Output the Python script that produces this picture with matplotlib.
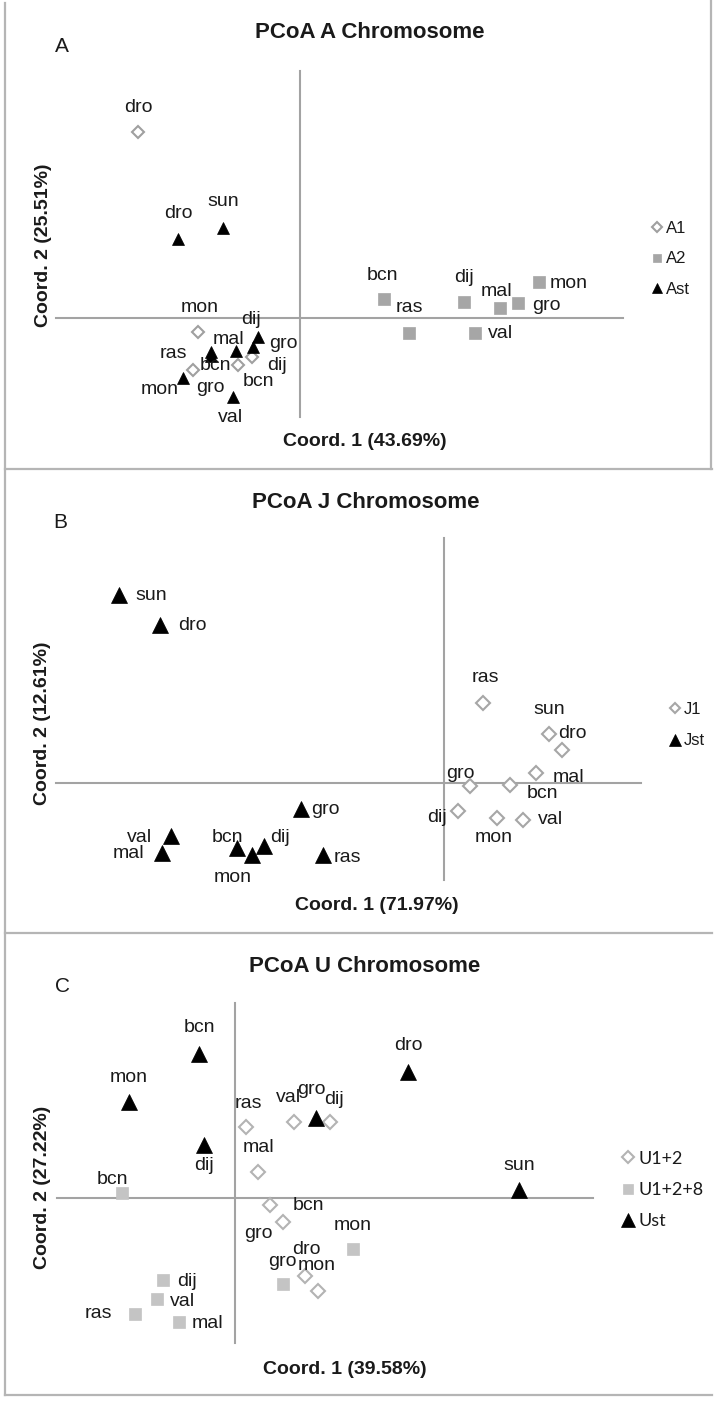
import matplotlib.pyplot as plt

plt.rcParams['font.family'] = ['Liberation Sans', 'DejaVu Sans']

W, H = 717, 1402
S = 100.0  # pixels per coordinate unit

# ---------------- panel A : A chromosome ----------------
a1_names = ['dro', 'mon', 'gro', 'bcn', 'dij']
a1_x = [-1.62, -1.02, -1.07, -0.62, -0.48]
a1_y = [1.86, -0.14, -0.52, -0.47, -0.39]

a2_names = ['bcn', 'ras', 'dij', 'mal', 'gro', 'mon', 'val']
a2_x = [0.84, 1.09, 1.64, 2.00, 2.18, 2.39, 1.75]
a2_y = [0.19, -0.15, 0.16, 0.10, 0.15, 0.36, -0.15]

ast_names = ['dro', 'sun', 'ras', 'bcn', 'mal', 'dij', 'gro', 'mon', 'val']
ast_x = [-1.22, -0.77, -0.89, -0.89, -0.64, -0.42, -0.47, -1.17, -0.67]
ast_y = [0.79, 0.90, -0.34, -0.38, -0.33, -0.19, -0.29, -0.60, -0.79]

# ---------------- panel B : J chromosome ----------------
j1_names = ['ras', 'sun', 'dro', 'mal', 'gro', 'bcn', 'dij', 'mon', 'val']
j1_x = [0.39, 1.05, 1.18, 0.92, 0.26, 0.66, 0.14, 0.53, 0.79]
j1_y = [0.80, 0.49, 0.33, 0.10, -0.03, -0.02, -0.28, -0.35, -0.37]

jst_names = ['sun', 'dro', 'gro', 'val', 'mal', 'bcn', 'mon', 'dij', 'ras']
jst_x = [-3.25, -2.84, -1.43, -2.73, -2.82, -2.07, -1.92, -1.80, -1.21]
jst_y = [1.88, 1.58, -0.26, -0.53, -0.70, -0.65, -0.72, -0.63, -0.72]

# ---------------- panel C : U chromosome ----------------
u12_names = ['ras', 'val', 'dij', 'mal', 'bcn', 'gro', 'dro', 'mon']
u12_x = [0.11, 0.59, 0.95, 0.23, 0.35, 0.48, 0.70, 0.83]
u12_y = [0.71, 0.76, 0.76, 0.26, -0.07, -0.24, -0.78, -0.93]

u128_names = ['bcn', 'mon', 'gro', 'dij', 'val', 'ras', 'mal']
u128_x = [-1.13, 1.18, 0.48, -0.72, -0.78, -1.00, -0.56]
u128_y = [0.05, -0.51, -0.86, -0.82, -1.01, -1.16, -1.24]

ust_names = ['bcn', 'mon', 'dij', 'dro', 'sun', 'gro']
ust_x = [-0.36, -1.06, -0.31, 1.73, 2.84, 0.81]
ust_y = [1.44, 0.96, 0.53, 1.26, 0.08, 0.80]

# label nudges (pixels, right / up) for each point, same order as names
a1_off = [(0, 25), (2, 24), (17, -17), (20, -16), (25, -8)]
a2_off = [(-2, 24), (0, 25), (0, 24), (-4, 16), (28, -2), (30, -1), (26, 0)]
ast_off = [(0, 26), (0, 27), (-38, -1), (4, -10), (-8, 11), (-7, 18), (30, 4), (-23, -12), (-3, -20)]
j1_off = [(2, 25), (0, 24), (10, 17), (32, -5), (-10, 13), (32, -9), (-21, -7), (-3, -19), (28, 1)]
jst_off = [(32, -1), (32, -1), (24, -1), (-32, -2), (-34, 0), (-10, 10), (-19, -22), (16, 8), (24, -2)]
u12_off = [(2, 24), (-6, 24), (4, 22), (0, 25), (38, -1), (-25, -11), (1, 26), (-1, 25)]
u128_off = [(-10, 13), (0, 24), (-1, 22), (24, -2), (25, -3), (-37, 1), (28, -1)]
ust_off = [(0, 27), (0, 25), (0, -20), (0, 26), (0, 25), (-5, 28)]

TXT = '#1a1a1a'
AXC = '#a3a3a3'
FRAME = '#b5b5b5'

fig = plt.figure(figsize=(W / 100, H / 100), dpi=100)


def fx(px):
    return px / W


def fy(py):
    return 1 - py / H


def make_panel(top, bottom, ox, oy, hx, vy):
    # axes covering the whole panel strip, origin of the PCoA at pixel (ox, oy)
    ax = fig.add_axes([0, fy(bottom), 1, (bottom - top) / H])
    ax.set_xlim((0 - ox) / S, (W - ox) / S)
    ax.set_ylim((oy - bottom) / S, (oy - top) / S)
    ax.axis('off')
    ax.plot([(hx[0] - ox) / S, (hx[1] - ox) / S], [0, 0], color=AXC, lw=1.5, zorder=1)
    ax.plot([0, 0], [(oy - vy[1]) / S, (oy - vy[0]) / S], color=AXC, lw=1.5, zorder=1)
    return ax


def series(ax, names, xs, ys, offs, **kw):
    ln, = ax.plot(xs, ys, ls='none', zorder=3, **kw)
    for n, x, y, (dx, dy) in zip(names, xs, ys, offs):
        ax.annotate(n, (x, y), xytext=(dx, dy), textcoords='offset pixels',
                    ha='center', va='center', fontsize=14, color=TXT, zorder=4)
    return ln


def titles(title, letter, xlab, ylab, t_xy, l_xy, x_xy, y_xy):
    fig.text(fx(t_xy[0]), fy(t_xy[1]), title, ha='center', va='center',
             fontsize=16, fontweight='bold', color=TXT)
    fig.text(fx(l_xy[0]), fy(l_xy[1]), letter, ha='center', va='center',
             fontsize=15, color=TXT)
    fig.text(fx(x_xy[0]), fy(x_xy[1]), xlab, ha='center', va='center',
             fontsize=14, fontweight='bold', color=TXT)
    fig.text(fx(y_xy[0]), fy(y_xy[1]), ylab, ha='center', va='center', rotation=90,
             fontsize=14, fontweight='bold', color=TXT)


def legend(ax, handles, labels, left, cy, fs, spacing, scale, family=None):
    prop = {'size': fs}
    if family:
        prop['family'] = family
    leg = ax.legend(handles, labels, loc='center left', bbox_to_anchor=(fx(left), fy(cy)),
                    bbox_transform=fig.transFigure, frameon=False, borderpad=0,
                    borderaxespad=0, handlelength=0.6, handletextpad=0.25,
                    labelspacing=spacing, markerscale=scale, prop=prop)
    for t in leg.get_texts():
        t.set_color(TXT)


# ---- panel A
axA = make_panel(0, 469, 300, 318, (56, 623), (71, 417))
hA1 = series(axA, a1_names, a1_x, a1_y, a1_off, marker='D', ms=6, mfc='white',
             mec='#a0a0a0', mew=1.5)
hA2 = series(axA, a2_names, a2_x, a2_y, a2_off, marker='s', ms=8, mfc='#a6a6a6',
             mec='#a6a6a6', mew=0.5)
hAst = series(axA, ast_names, ast_x, ast_y, ast_off, marker='^', ms=9, mfc='black',
              mec='black', mew=0.5)
titles('PCoA A Chromosome', 'A', 'Coord. 1 (43.69%)', 'Coord. 2 (25.51%)',
       (370, 33), (62, 47), (365, 442), (44, 245))
legend(axA, [hA1, hA2, hAst], ['A1', 'A2', 'Ast'], 652, 259, 12, 0.95, 0.8)

# ---- panel B
axB = make_panel(469, 933, 444, 783, (56, 641), (538, 880))
hJ1 = series(axB, j1_names, j1_x, j1_y, j1_off, marker='D', ms=7, mfc='white',
             mec='#a6a6a6', mew=1.5)
hJst = series(axB, jst_names, jst_x, jst_y, jst_off, marker='^', ms=12, mfc='black',
              mec='black', mew=0.5)
titles('PCoA J Chromosome', 'B', 'Coord. 1 (71.97%)', 'Coord. 2 (12.61%)',
       (366, 502), (60, 522), (377, 905), (43, 723))
legend(axB, [hJ1, hJst], ['J1', 'Jst'], 670, 725, 12, 1.0, 0.75)

# ---- panel C
axC = make_panel(933, 1402, 235, 1198, (57, 593), (1003, 1343))
hU12 = series(axC, u12_names, u12_x, u12_y, u12_off, marker='D', ms=7, mfc='white',
              mec='#b3b3b3', mew=1.5)
hU128 = series(axC, u128_names, u128_x, u128_y, u128_off, marker='s', ms=8.5,
               mfc='#c4c4c4', mec='#c4c4c4', mew=0.5)
hUst = series(axC, ust_names, ust_x, ust_y, ust_off, marker='^', ms=12, mfc='black',
              mec='black', mew=0.5)
titles('PCoA U Chromosome', 'C', 'Coord. 1 (39.58%)', 'Coord. 2 (27.22%)',
       (365, 967), (62, 987), (345, 1370), (43, 1187))
legend(axC, [hU12, hU128, hUst], ['U1+2', 'U1+2+8', 'Ust'], 623, 1190, 13, 0.85, 0.85,
       family=['Lato', 'DejaVu Sans'])

# ---- panel frames
frame = fig.add_axes([0, 0, 1, 1])
frame.set_xlim(0, W)
frame.set_ylim(H, 0)
frame.axis('off')
frame.plot([5, 5], [3, 1395], color=FRAME, lw=1.6)
frame.plot([711, 711], [0, 469], color=FRAME, lw=1.6)
for yy in [469, 933, 1395]:
    frame.plot([5, 712], [yy, yy], color=FRAME, lw=1.6)

fig.savefig('out.png', dpi=100)
